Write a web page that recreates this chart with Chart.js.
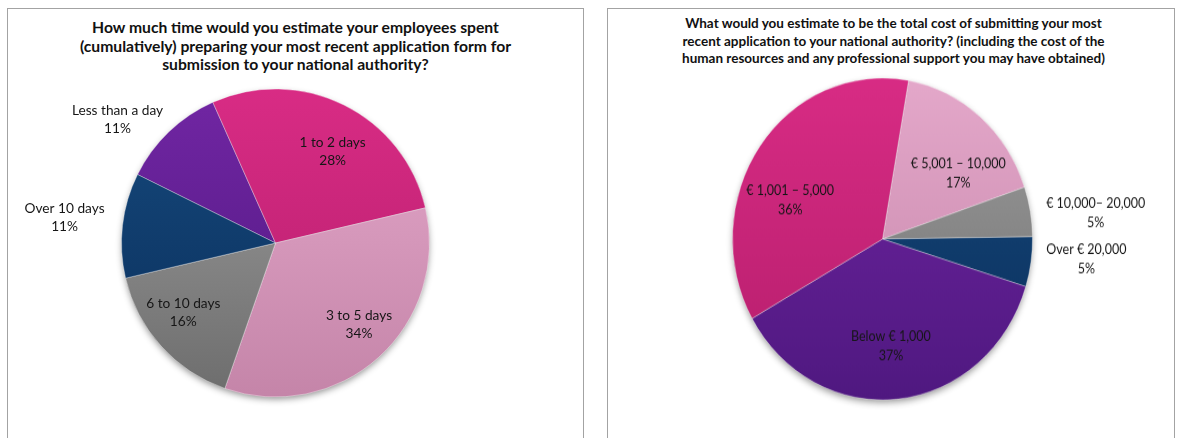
<!DOCTYPE html>
<html>
<head>
<meta charset="utf-8">
<script src="https://cdn.jsdelivr.net/npm/chart.js@4.4.1/dist/chart.umd.min.js"></script>
<style>
  html, body { margin: 0; padding: 0; background: #fff; }
  body { width: 1178px; height: 438px; position: relative; overflow: hidden; font-family: 'Lato', 'Open Sans', sans-serif; }
  .panel { position: absolute; top: 8px; height: 460px; border: 1px solid #a3a3a3; background: #fff; }
  .panel canvas { position: absolute; left: 0; top: 0; }
  .ttl { position: absolute; left: 0; right: 0; text-align: center; font-weight: 700; color: #111; white-space: nowrap; }
</style>
</head>
<body>

<div class="panel" id="panelTime" style="left:7px;width:575px;">
  <div class="ttl" id="titleTime" style="top:9px;font-size:15.7px;line-height:18.5px;"></div>
  <canvas id="timeChart" width="574" height="429" style="width:574px;height:429px;"></canvas>
</div>

<div class="panel" id="panelCost" style="left:607px;width:566px;">
  <div class="ttl" id="titleCost" style="top:6px;left:5px;font-size:13.5px;line-height:17.5px;"></div>
  <canvas id="costChart" width="565" height="429" style="width:565px;height:429px;transform-origin:274.5px 230px;transform:scaleY(1.073);"></canvas>
</div>

<script>
// --- time spent preparing the application ---
const TIME_TITLE = [
  'How much time would you estimate your employees spent',
  '(cumulatively) preparing your most recent application form for',
  'submission to your national authority?'
];
const TIME_CATS   = ['Less than a day', '1 to 2 days', '3 to 5 days', '6 to 10 days', 'Over 10 days'];
const TIME_VALUES = [11, 28, 34, 16, 11];

// --- cost of submitting the application ---
const COST_TITLE = [
  'What would you estimate to be the total cost of submitting your most',
  'recent application to your national authority? (including the cost of the',
  'human resources and any professional support you may have obtained)'
];
const COST_CATS   = ['€ 5,001 – 10,000', '€ 10,000– 20,000', 'Over € 20,000', 'Below € 1,000', '€ 1,001 – 5,000'];
const COST_VALUES = [17, 5, 5, 37, 36];

// slice fills, top colour -> bottom colour
const FILL = {
  magenta: ['#d92c85', '#b41d6b'],
  pink:    ['#e5a9cb', '#c484a8'],
  grey:    ['#a0a0a0', '#6c6c6c'],
  navy:    ['#164a7e', '#0a2e5a'],
  purple:  ['#7226a4', '#4e187f']
};
const TIME_FILLS = [FILL.purple, FILL.magenta, FILL.pink, FILL.grey, FILL.navy];
const COST_FILLS = [FILL.pink, FILL.grey, FILL.navy, FILL.purple, FILL.magenta];

// label placement per slice: [radius factor, angle shift in degrees]
const TIME_LABEL_POS = [[1.30, -8.3], [0.70, 5.6], [0.76, -3.5], [0.75, 5], [1.38, 0.4]];
const COST_LABEL_POS = [[0.65, 10.4], [1.43, 3.5], [1.365, -2.9], [0.67, 1.4], [0.66, -14]];

function gradientFill(fills) {
  return (ctx) => {
    const pair = fills[ctx.dataIndex];
    const chart = ctx.chart;
    const area = chart.chartArea;
    if (!area) return pair[0];
    const g = chart.ctx.createLinearGradient(0, area.top, 0, area.bottom);
    g.addColorStop(0, pair[0]);
    g.addColorStop(1, pair[1]);
    return g;
  };
}

// soft drop shadow under the whole pie
const pieShadow = {
  id: 'pieShadow',
  beforeDatasetsDraw(chart) {
    const arc = chart.getDatasetMeta(0).data[0];
    if (!arc) return;
    const { x, y, outerRadius } = arc.getProps(['x', 'y', 'outerRadius'], true);
    const ctx = chart.ctx;
    ctx.save();
    ctx.shadowColor = 'rgba(0,0,0,0.45)';
    ctx.shadowBlur = 7;
    ctx.shadowOffsetY = 3;
    ctx.beginPath();
    ctx.arc(x, y, outerRadius - 1, 0, Math.PI * 2);
    ctx.fillStyle = '#777';
    ctx.fill();
    ctx.restore();
  }
};

// category + percentage labels, placed from each arc's mid angle
const sliceLabels = {
  id: 'sliceLabels',
  afterDatasetsDraw(chart, args, opts) {
    const ctx = chart.ctx;
    const ds = chart.data.datasets[0];
    ctx.save();
    ctx.font = opts.font;
    ctx.fillStyle = '#161616';
    ctx.textAlign = 'center';
    ctx.textBaseline = 'middle';
    chart.getDatasetMeta(0).data.forEach((arc, i) => {
      const p = arc.getProps(['x', 'y', 'startAngle', 'endAngle', 'outerRadius'], true);
      const [k, shift] = opts.pos[i];
      const a = (p.startAngle + p.endAngle) / 2 + shift * Math.PI / 180;
      const lx = p.x + Math.cos(a) * p.outerRadius * k;
      const ly = p.y + Math.sin(a) * p.outerRadius * k;
      ctx.fillText(chart.data.labels[i], lx, ly - opts.gap / 2);
      ctx.fillText(ds.data[i] + '%', lx, ly + opts.gap / 2);
    });
    ctx.restore();
  }
};

function makePie(canvasId, cats, values, fills, rotation, radius, padding, labelPos, labelFont) {
  return new Chart(document.getElementById(canvasId), {
    type: 'pie',
    data: {
      labels: cats,
      datasets: [{
        data: values,
        backgroundColor: gradientFill(fills),
        borderColor: 'rgba(255,255,255,0.35)',
        borderWidth: 1
      }]
    },
    options: {
      responsive: false,
      animation: false,
      rotation,
      radius,
      layout: { padding },
      plugins: {
        legend: { display: false },
        tooltip: { enabled: false },
        sliceLabels: { pos: labelPos, font: labelFont, gap: 18 }
      }
    },
    plugins: [pieShadow, sliceLabels]
  });
}

function pageInit() {
  document.getElementById('titleTime').innerHTML = TIME_TITLE.join('<br>');
  document.getElementById('titleCost').innerHTML = COST_TITLE.join('<br>');

  makePie('timeChart', TIME_CATS, TIME_VALUES, TIME_FILLS, -63.6, 154,
    { left: 107.5, right: 146.5, top: 74, bottom: 35 },
    TIME_LABEL_POS, '13.7px Lato');

  makePie('costChart', COST_CATS, COST_VALUES, COST_FILLS, 10, 150,
    { left: 114.5, right: 130.5, top: 70, bottom: 39 },
    COST_LABEL_POS, '12.5px Lato');
}
document.addEventListener('DOMContentLoaded', pageInit);
</script>
</body>
</html>
